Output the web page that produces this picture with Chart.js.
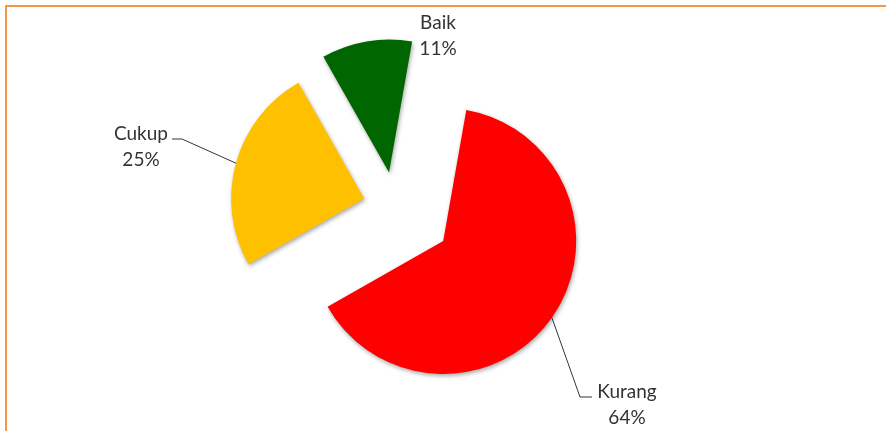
<!DOCTYPE html>
<html>
<head>
<meta charset="utf-8">
<script src="https://cdn.jsdelivr.net/npm/chart.js@4.4.1/dist/chart.umd.min.js"></script>
<style>
  html, body { margin: 0; padding: 0; background: #fff; overflow: hidden; }
  #wrap { position: relative; width: 886px; height: 431px; }
  #frame {
    position: absolute; left: 5px; top: 5px; width: 900px; height: 500px;
    border-top: 2px solid #F79646; border-left: 2px solid #F79646;
    box-sizing: border-box; pointer-events: none;
  }
  canvas { position: absolute; left: 0; top: 0; }
</style>
</head>
<body>
<div id="wrap">
  <canvas id="pieChart" width="886" height="431"></canvas>
  <div id="frame"></div>
</div>
<script>
const categories = ["Kurang", "Cukup", "Baik"];
const values = [64, 25, 11];
const percentLabels = ["64%", "25%", "11%"];
const sliceColors = ["#FF0000", "#FFC000", "#006600"];

// how far each slice is pulled out from the center (px), Excel-style explosion
const explodeBy = [59, 32, 35];

const explodePlugin = {
  id: "explode",
  afterUpdate(chart) {
    chart.getDatasetMeta(0).data.forEach((arc, i) => {
      const mid = (arc.startAngle + arc.endAngle) / 2;
      arc.x += Math.cos(mid) * explodeBy[i];
      arc.y += Math.sin(mid) * explodeBy[i];
    });
  },
  beforeDatasetsDraw(chart) {
    const ctx = chart.ctx;
    ctx.save();
    ctx.shadowColor = "rgba(0,0,0,0.35)";
    ctx.shadowBlur = 4;
    ctx.shadowOffsetX = 1;
    ctx.shadowOffsetY = 2;
  },
  afterDatasetsDraw(chart) {
    chart.ctx.restore();
  }
};

// text boxes + leader lines
const labelPlugin = {
  id: "sliceLabels",
  afterDraw(chart, args, opts) {
    const ctx = chart.ctx;
    const arcs = chart.getDatasetMeta(0).data;
    ctx.save();
    ctx.font = "19px Lato";
    ctx.fillStyle = "#333";
    ctx.strokeStyle = "#333";
    ctx.lineWidth = 1;
    ctx.textAlign = "center";
    ctx.textBaseline = "middle";
    arcs.forEach((arc, i) => {
      const box = opts.boxes[i];
      if (box.elbow) {
        const mid = (arc.startAngle + arc.endAngle) / 2;
        const ax = arc.x + Math.cos(mid) * arc.outerRadius;
        const ay = arc.y + Math.sin(mid) * arc.outerRadius;
        ctx.beginPath();
        ctx.moveTo(ax, ay);
        ctx.lineTo(box.elbow[0], box.elbow[1]);
        ctx.lineTo(box.elbow[2], box.elbow[1]);
        ctx.stroke();
      }
      ctx.fillText(categories[i], box.x, box.y);
      ctx.fillText(percentLabels[i], box.x, box.y + 26);
    });
    ctx.restore();
  }
};

new Chart(document.getElementById("pieChart"), {
  type: "pie",
  data: {
    labels: categories,
    datasets: [{
      data: values,
      backgroundColor: sliceColors,
      borderWidth: 0
    }]
  },
  options: {
    responsive: false,
    animation: false,
    rotation: 10,
    radius: 133,
    layout: { padding: { left: 0, right: 96, top: 0, bottom: 17 } },
    events: [],
    plugins: {
      legend: { display: false },
      tooltip: { enabled: false },
      sliceLabels: {
        boxes: [
          { x: 627, y: 392, elbow: [580, 397, 592] },
          { x: 141, y: 134, elbow: [182, 139, 172] },
          { x: 438, y: 23 }
        ]
      }
    }
  },
  plugins: [explodePlugin, labelPlugin]
});
</script>
</body>
</html>
